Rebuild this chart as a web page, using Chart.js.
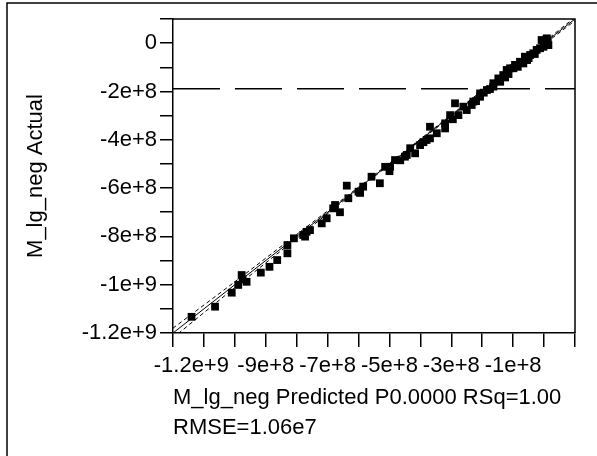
<!DOCTYPE html>
<html lang="en">
<head>
    <meta charset="UTF-8">
    <title>M_lg_neg Actual by Predicted</title>
    <script src="https://cdn.jsdelivr.net/npm/chart.js"></script>
    <style>
        body {
            margin: 0;
            background: #fff;
        }
        #wrap {
            width: 597px;
            height: 456px;
        }
    </style>
</head>
<body>
    <div id="wrap">
        <canvas id="fitChart" width="597" height="456"></canvas>
    </div>

    <script>
        // values (units: 1e8)
        const predicted = [
            -11.4, -10.64, -10.1, -9.89, -9.78, -9.75, -9.62, -9.16, -8.88, -8.63,
            -8.3, -8.3, -8.09, -7.79, -7.73, -7.68, -7.57, -7.19, -7.03, -6.82,
            -6.76, -6.6, -6.38, -6.33, -6.0, -5.85, -5.58, -5.31, -5.14, -4.98,
            -4.82, -4.5, -4.44, -4.33, -4.17, -4.01, -3.8, -3.69, -3.69, -3.47,
            -3.2, -3.2, -3.04, -2.88, -2.77, -2.61, -2.5, -2.34, -2.29, -2.07,
            -2.07, -1.95, -1.85, -1.64, -1.64, -1.48, -1.42, -1.32, -1.26, -1.21,
            -1.1, -0.99, -0.94, -0.78, -0.67, -0.62, -0.5, -0.45, -0.35, -0.24,
            -0.13, -0.02, 0.03, -0.08, 0.14, 0.09, 0.12,
            -5.95, -5.0, -4.65, -3.9, -2.95, -2.2, -1.75, -1.15, -0.85, -0.55,
            -0.3, 0.0, 0.06
        ];
        const actual = [
            -11.33, -10.91, -10.33, -10.01, -9.6, -9.78, -9.88, -9.5, -9.26, -8.98,
            -8.7, -8.36, -8.08, -7.94, -8.01, -7.81, -7.74, -7.46, -7.25, -6.84,
            -6.7, -7.0, -5.9, -6.42, -6.15, -5.94, -5.53, -5.8, -5.12, -5.12,
            -4.84, -4.7, -4.63, -4.35, -4.56, -4.22, -4.01, -3.94, -3.46, -3.73,
            -3.32, -3.53, -2.98, -2.49, -2.98, -2.63, -2.77, -2.56, -2.42, -2.08,
            -2.22, -2.05, -1.94, -1.66, -1.8, -1.46, -1.6, -1.32, -1.42, -1.11,
            -1.04, -1.04, -0.9, -0.77, -0.84, -0.56, -0.62, -0.49, -0.42, -0.28,
            -0.21, -0.15, 0.06, 0.13, -0.08, 0.2, 0.05,
            -6.2, -5.3, -4.85, -4.1, -3.15, -2.4, -1.9, -1.28, -0.98, -0.7,
            -0.45, -0.05, 0.15
        ];

        const meanActual = -1.89e8;

        const fitX = [-12e8, 1e8];
        const ciX = [-12e8, -10e8, -8e8, -6e8, -4e8, -2e8, 0, 1e8];
        const ciUpper = [-11.8e8, -9.88e8, -7.92e8, -5.96e8, -3.97e8, -1.96e8, 0.05e8, 1.07e8];
        const ciLower = [-12.2e8, -10.12e8, -8.08e8, -6.04e8, -4.03e8, -2.04e8, -0.05e8, 0.93e8];

        const xTickValues = [-1.2e9, -9e8, -7e8, -5e8, -3e8, -1e8];
        const xTickLabels = ['      -1.2e+9', '-9e+8', '-7e+8', '-5e+8', '-3e+8', '-1e+8'];
        const yTickValues = [0, -2e8, -4e8, -6e8, -8e8, -1e9, -1.2e9];
        const yTickLabels = ['0', '-2e+8', '-4e+8', '-6e+8', '-8e+8', '-1e+9', '-1.2e+9'];

        const FONT = 'Liberation Sans, Arial, Helvetica, sans-serif';

        function pickLabel(values, labels, v) {
            for (let i = 0; i < values.length; i++) {
                if (Math.abs(values[i] - v) < 1e3) return labels[i];
            }
            return '';
        }

        const points = predicted.map((p, i) => ({ x: p * 1e8, y: actual[i] * 1e8 }));

        // frame of the plot + outer report box
        const framePlugin = {
            id: 'frame',
            beforeDraw(chart) {
                const ctx = chart.ctx;
                ctx.save();
                ctx.fillStyle = '#fff';
                ctx.fillRect(0, 0, chart.width, chart.height);
                ctx.strokeStyle = '#000';
                ctx.lineWidth = 1.5;
                ctx.beginPath();
                ctx.moveTo(7, chart.height);
                ctx.lineTo(7, 3);
                ctx.lineTo(chart.width, 3);
                ctx.stroke();
                ctx.restore();
            },
            afterDraw(chart) {
                const a = chart.chartArea;
                const ctx = chart.ctx;
                ctx.save();
                ctx.strokeStyle = '#000';
                ctx.lineWidth = 1.5;
                ctx.beginPath();
                ctx.moveTo(a.left, a.top);
                ctx.lineTo(a.right, a.top);
                ctx.lineTo(a.right, a.bottom);
                ctx.stroke();
                ctx.restore();
            }
        };

        const ctx = document.getElementById('fitChart').getContext('2d');
        new Chart(ctx, {
            type: 'scatter',
            data: {
                datasets: [
                    {
                        data: points,
                        pointStyle: 'rect',
                        pointRadius: 5.5,
                        backgroundColor: '#000',
                        borderColor: '#000',
                        borderWidth: 0
                    },
                    {
                        data: fitX.map(v => ({ x: v, y: v })),
                        showLine: true,
                        borderColor: '#000',
                        borderWidth: 1,
                        pointRadius: 0
                    },
                    {
                        data: ciX.map((v, i) => ({ x: v, y: ciUpper[i] })),
                        showLine: true,
                        tension: 0.3,
                        borderColor: '#000',
                        borderWidth: 1,
                        borderDash: [4, 3],
                        pointRadius: 0
                    },
                    {
                        data: ciX.map((v, i) => ({ x: v, y: ciLower[i] })),
                        showLine: true,
                        tension: 0.3,
                        borderColor: '#000',
                        borderWidth: 1,
                        borderDash: [4, 3],
                        pointRadius: 0
                    },
                    {
                        data: [{ x: -12e8, y: meanActual }, { x: 1e8, y: meanActual }],
                        showLine: true,
                        borderColor: '#000',
                        borderWidth: 1.5,
                        borderDash: [47, 15],
                        pointRadius: 0
                    }
                ]
            },
            options: {
                responsive: false,
                animation: false,
                devicePixelRatio: 1,
                layout: {
                    padding: { left: 8, top: 19, right: 22, bottom: 0 }
                },
                plugins: {
                    legend: { display: false },
                    tooltip: { enabled: false }
                },
                scales: {
                    x: {
                        type: 'linear',
                        min: -12e8,
                        max: 1e8,
                        afterFit: s => { s.height = 123; },
                        border: { display: true, color: '#000', width: 1.5 },
                        grid: {
                            drawOnChartArea: false,
                            drawTicks: true,
                            tickLength: 14,
                            color: '#000',
                            lineWidth: 1.5
                        },
                        ticks: {
                            stepSize: 1e8,
                            autoSkip: false,
                            maxRotation: 0,
                            minRotation: 0,
                            padding: 6,
                            color: '#000',
                            font: { family: FONT, size: 22 },
                            callback: v => pickLabel(xTickValues, xTickLabels, v)
                        },
                        title: {
                            display: true,
                            align: 'start',
                            text: ['M_lg_neg Predicted P0.0000 RSq=1.00', 'RMSE=1.06e7'],
                            color: '#000',
                            font: { family: FONT, size: 22, lineHeight: 1.38 },
                            padding: { top: 0, bottom: 13 }
                        }
                    },
                    y: {
                        type: 'linear',
                        min: -12e8,
                        max: 1e8,
                        afterFit: s => { s.width = 165; },
                        border: { display: true, color: '#000', width: 1.5 },
                        grid: {
                            drawOnChartArea: false,
                            drawTicks: true,
                            tickLength: 13,
                            color: '#000',
                            lineWidth: 1.5
                        },
                        ticks: {
                            stepSize: 1e8,
                            autoSkip: false,
                            padding: 3,
                            color: '#000',
                            font: { family: FONT, size: 22 },
                            callback: v => pickLabel(yTickValues, yTickLabels, v)
                        },
                        title: {
                            display: true,
                            text: 'M_lg_neg Actual',
                            color: '#000',
                            font: { family: FONT, size: 22 },
                            padding: { top: 15, bottom: 0 }
                        }
                    }
                }
            },
            plugins: [framePlugin]
        });
    </script>
</body>
</html>
